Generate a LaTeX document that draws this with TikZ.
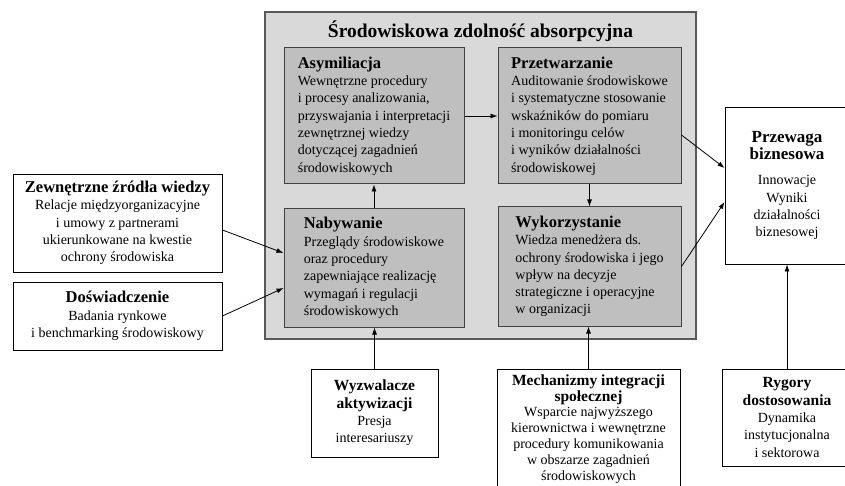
\documentclass[tikz,border=0pt]{standalone}
\usepackage{fontspec}
\setmainfont{Liberation Serif}
\usetikzlibrary{arrows.meta, positioning, calc}
\newcommand{\naglowek}[2][16.5]{%
  % #1 = rozmiar, #2 = tekst
  {\fontsize{#1}{#1}\selectfont\bfseries #2}}
\newcommand{\tresc}{\fontsize{14}{17.3}\selectfont}
\newcommand{\trescw}{\fontsize{14}{15.9}\selectfont}

\begin{document}
\begin{tikzpicture}[x=1pt, y=-1pt, >={Latex[length=7pt,width=5pt]},
    zdolnosc/.style={draw=black!65, line width=1.2pt, fill=black!15},
    etap/.style={draw=black!75, line width=1pt, fill=black!25, align=left, font=\tresc, inner sep=0pt},
    czynnik/.style={draw=black, line width=0.9pt, fill=white, align=center, font=\tresc, inner sep=0pt},
    strzalka/.style={->, line width=0.8pt}]

    \useasboundingbox (0,0) rectangle (845,486);

    % zdolnosc absorpcyjna
    \node[zdolnosc, minimum width=431pt, minimum height=327pt] (zdol) at (480.5,175.5) {};
    \node (tytul) at (480.5,31) {\naglowek[19.5]{Środowiskowa zdolność absorpcyjna}};

    \node[etap, minimum width=180pt, minimum height=136pt] (asym) at (374,116)
      {\naglowek{Asymiliacja}\\ Wewnętrzne procedury\\ i procesy analizowania,\\ przyswajania i interpretacji\\ zewnętrznej wiedzy\\ dotyczącej zagadnień\\ środowiskowych};
    \node[etap, minimum width=183pt, minimum height=136pt] (przet) at (589.5,116)
      {\naglowek{Przetwarzanie}\\ Auditowanie środowiskowe\\ i systematyczne stosowanie\\ wskaźników do pomiaru\\ i monitoringu celów\\ i wyników działalności\\ środowiskowej};
    \node[etap, minimum width=180pt, minimum height=118pt] (nab) at (374,268)
      {\naglowek{Nabywanie}\\ Przeglądy środowiskowe\\ oraz procedury\\ zapewniające realizację\\ wymagań i regulacji\\ środowiskowych};
    \node[etap, minimum width=183pt, minimum height=119pt] (wyk) at (589.5,266.5)
      {\naglowek{Wykorzystanie}\\ Wiedza menedżera ds.\\ ochrony środowiska i jego\\ wpływ na decyzje\\ strategiczne i operacyjne\\ w organizacji};

    % czynniki zewnetrzne
    \node[czynnik, minimum width=209pt, minimum height=98pt] (zew) at (117.5,223)
      {\naglowek{Zewnętrzne źródła wiedzy}\\ Relacje międzyorganizacyjne\\ i umowy z partnerami\\ ukierunkowane na kwestie\\ ochrony środowiska};
    \node[czynnik, minimum width=209pt, minimum height=68pt] (dos) at (117.5,316)
      {\naglowek{Doświadczenie}\\ Badania rynkowe\\ i benchmarking środowiskowy};
    \node[czynnik, minimum width=124pt, minimum height=157pt] (przew) at (787,185.5)
      {\naglowek[17]{Przewaga}\\ \naglowek[17]{biznesowa}\\[8pt] Innowacje\\ Wyniki\\ działalności\\ biznesowej};
    \node[czynnik, minimum width=127pt, minimum height=88pt] (wyzw) at (374.5,413)
      {\naglowek[15.5]{Wyzwalacze}\\ \naglowek[15.5]{aktywizacji}\\ Presja\\ interesariuszy};
    \node[czynnik, font=\trescw, minimum width=183pt, minimum height=120pt] (mech) at (588.5,429)
      {\naglowek[15.5]{Mechanizmy integracji}\\ \naglowek[15.5]{społecznej}\\ Wsparcie najwyższego\\ kierownictwa i wewnętrzne\\ procedury komunikowania\\ w obszarze zagadnień\\ środowiskowych};
    \node[czynnik, minimum width=130pt, minimum height=97pt] (ryg) at (787,417.5)
      {\naglowek[15.5]{Rygory}\\ \naglowek[15.5]{dostosowania}\\ Dynamika\\ instytucjonalna\\ i sektorowa};

    % strzalki
    \draw[strzalka] (asym) -- (przet);
    \draw[strzalka] (nab) -- (asym);
    \draw[strzalka] (przet) -- (wyk);
    \draw[strzalka] ([yshift=-7pt]zew.east) -- ([yshift=15pt]nab.west);
    \draw[strzalka] (dos.east) -- ([yshift=-20pt]nab.west);
    \draw[strzalka] ([yshift=-19pt]przet.east) -- ([yshift=17.5pt]przew.west);
    \draw[strzalka] (wyk.east) -- ([yshift=-16.5pt]przew.west);
    \draw[strzalka] (wyzw.north) -- (wyzw.north |- nab.south);
    \draw[strzalka] (mech.north) -- (mech.north |- wyk.south);
    \draw[strzalka] (ryg) -- (przew);

\end{tikzpicture}
\end{document}
